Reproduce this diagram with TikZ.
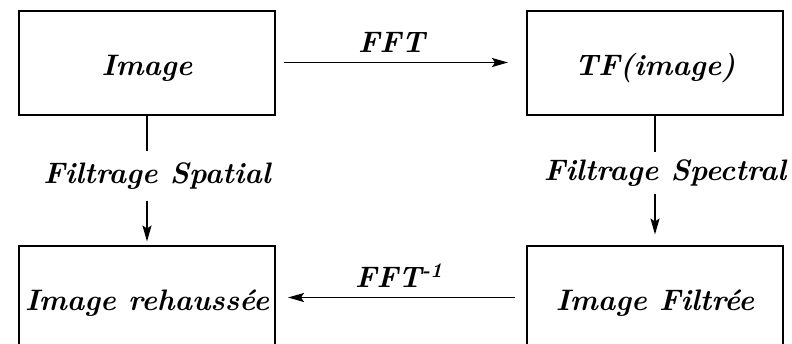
\documentclass[tikz,border=0pt]{standalone}
\usetikzlibrary{arrows.meta}
\begin{document}
\begin{tikzpicture}[x=0.5pt,y=-0.5pt,
  font=\fontsize{14.8}{17}\selectfont\bfseries\itshape,
  box/.style={draw,line width=1pt,minimum width=128pt,minimum height=52pt,
    inner sep=0pt,text height=20pt,text depth=7pt},
  lab/.style={inner xsep=0pt,inner ysep=5pt},
  arr/.style={line width=0.9pt,-{Stealth[length=8pt,width=4.5pt,inset=1.5pt]}},
  seg/.style={line width=0.9pt}]
\useasboundingbox (0,0) rectangle (792,343);
\clip (0,0) rectangle (792,343);

% the four processing stages
\node[box] (img)  at (147,62.5)  {Image};
\node[box] (tf)   at (655,62.5)  {TF(image)};
\node[box] (reh)  at (147,297.5) {Image rehaussée};
\node[box] (filt) at (655,297.5) {Image Filtrée};

% forward and inverse transforms
\draw[arr] ([xshift=4pt]img.east) -- ([xshift=-9pt]tf.west)
  node[pos=0.48,above=1pt] (fft) {FFT};
\draw[arr] ([xshift=-5.5pt]filt.west) -- ([xshift=6pt]reh.east)
  node[pos=0.51,above=1pt] (ifft) {FFT\textsuperscript{-1}};

% filtering paths, broken by their labels
\node[lab,inner ysep=5.5pt] (spat) at (157,176) {Filtrage Spatial};
\draw[seg] (img.south) -- (img.south |- spat.north);
\draw[arr,shorten >=1.5pt] (img.south |- spat.south) -- (reh.north);

\node[lab,inner ysep=3.5pt] (spec) at (665,173) {Filtrage Spectral};
\draw[seg] (tf.south) -- (tf.south |- spec.north);
\draw[arr,shorten >=5pt] (tf.south |- spec.south) -- (filt.north);
\end{tikzpicture}
\end{document}
